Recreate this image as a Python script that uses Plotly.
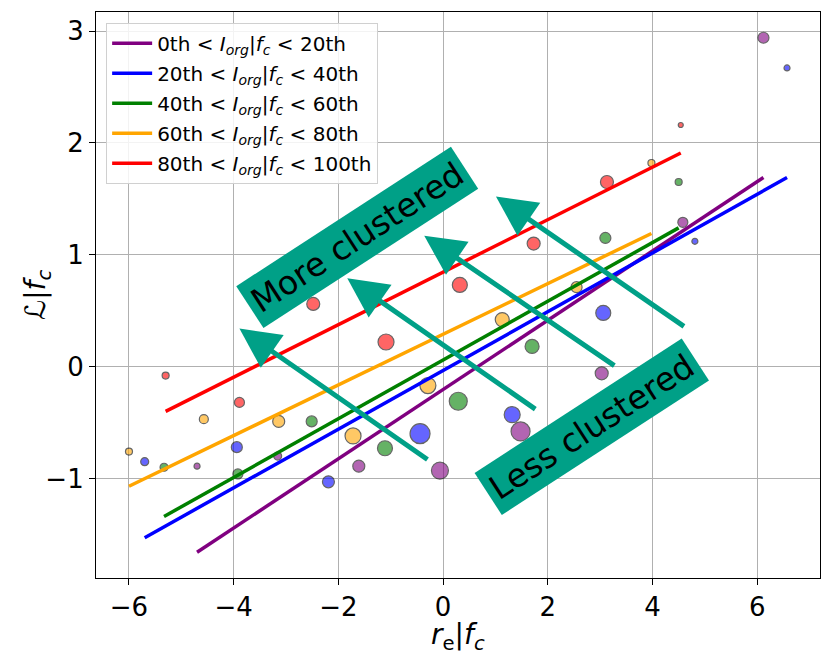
import plotly.graph_objects as go

# percentile bins of I_org|f_c
bin_labels = ["0th", "20th", "40th", "60th", "80th", "100th"]
colors = ["purple", "blue", "green", "orange", "red"]

# binned points per group (x = r_e|f_c, y = L|f_c, marker diameter)
purple_x = [-4.70, -3.16, -1.61, -0.06, 1.48, 3.03, 4.58, 6.12]
purple_y = [-0.89, -0.80, -0.89, -0.93, -0.58, -0.06, 1.29, 2.94]
purple_s = [6, 8, 12, 17, 19, 13, 10, 11]

blue_x = [-5.70, -3.94, -2.19, -0.44, 1.32, 3.06, 4.81, 6.57]
blue_y = [-0.85, -0.72, -1.03, -0.60, -0.43, 0.48, 1.12, 2.67]
blue_s = [8, 11, 12, 20, 16, 15, 6, 6]

green_x = [-5.33, -3.92, -2.51, -1.11, 0.29, 1.70, 3.10, 4.50]
green_y = [-0.90, -0.96, -0.49, -0.73, -0.31, 0.18, 1.15, 1.65]
green_s = [8, 10, 11, 15, 18, 14, 11, 7]

orange_x = [-6.00, -4.57, -3.14, -1.72, -0.29, 1.13, 2.55, 3.98]
orange_y = [-0.76, -0.47, -0.49, -0.62, -0.17, 0.42, 0.71, 1.82]
orange_s = [7, 9, 12, 16, 16, 14, 11, 7]

red_x = [-5.30, -3.89, -2.48, -1.09, 0.32, 1.73, 3.13, 4.54]
red_y = [-0.08, -0.32, 0.56, 0.22, 0.73, 1.10, 1.65, 2.16]
red_s = [7, 10, 13, 16, 15, 13, 13, 5]

# fitted line values at the first and last x of each group
purple_fit = [-1.66, 1.69]
blue_fit = [-1.53, 1.69]
green_fit = [-1.34, 1.24]
orange_fit = [-1.07, 1.19]
red_fit = [-0.40, 1.91]

groups = [
    (purple_x, purple_y, purple_s, purple_fit),
    (blue_x, blue_y, blue_s, blue_fit),
    (green_x, green_y, green_s, green_fit),
    (orange_x, orange_y, orange_s, orange_fit),
    (red_x, red_y, red_s, red_fit),
]

# arrows: (tip x, tip y, tail x, tail y)
arrows = [
    (-3.89, 0.34, -0.27, -0.84),
    (-1.83, 0.79, 1.79, -0.39),
    (-0.36, 1.17, 3.30, 0.00),
    (1.01, 1.52, 4.63, 0.35),
]

fig = go.Figure()

for (x, y, s, fit), c in zip(groups, colors):
    fig.add_trace(go.Scatter(
        x=x, y=y, mode="markers", showlegend=False,
        marker=dict(size=s, color=c, opacity=0.6,
                    line=dict(color="black", width=1.2)),
    ))

for i, ((x, y, s, fit), c) in enumerate(zip(groups, colors)):
    name = (f"{bin_labels[i]} &lt; <i>I</i><sub><i>org</i></sub>|"
            f"<i>f</i><sub><i>c</i></sub> &lt; {bin_labels[i + 1]}")
    fig.add_trace(go.Scatter(
        x=[min(x), max(x)], y=fit, mode="lines", name=name,
        legendgroup=str(i), line=dict(color=c, width=3.5),
    ))

teal = "#00A087"
for tx, ty, ax, ay in arrows:
    fig.add_annotation(
        x=tx, y=ty, ax=ax, ay=ay, xref="x", yref="y", axref="x", ayref="y",
        text="", showarrow=True, arrowhead=2, arrowsize=1.6,
        arrowwidth=5, arrowcolor=teal,
    )

box_font = dict(size=33, color="black", family="DejaVu Sans")
fig.add_annotation(
    x=-1.64, y=1.15, xref="x", yref="y", text="More clustered",
    showarrow=False, textangle=-33, bgcolor=teal, borderpad=5, font=box_font,
)
fig.add_annotation(
    x=2.85, y=-0.54, xref="x", yref="y", text="Less clustered",
    showarrow=False, textangle=-33, bgcolor=teal, borderpad=5, font=box_font,
)

# axis titles
fig.add_annotation(
    x=0.5, y=0, xref="paper", yref="paper", yshift=-58, showarrow=False,
    text="<i>r</i><sub>e</sub>|<i>f</i><sub><i>c</i></sub>",
    font=dict(size=28), yanchor="middle",
)
fig.add_annotation(
    x=0, y=0.5, xref="paper", yref="paper", xshift=-59, showarrow=False,
    text="ℒ|<i>f</i><sub><i>c</i></sub>", textangle=-90,
    font=dict(size=28), xanchor="center",
)

axis_common = dict(
    showgrid=True, gridcolor="#b0b0b0", gridwidth=1,
    showline=True, linecolor="black", linewidth=1.2, mirror=True,
    ticks="outside", ticklen=6, tickcolor="black",
    tickfont=dict(size=26, color="black"), zeroline=False, automargin=False,
)

fig.update_layout(
    width=830, height=664,
    margin=dict(l=88, r=18, t=4, b=94),
    plot_bgcolor="white", paper_bgcolor="white",
    font=dict(family="DejaVu Sans", color="black"),
    xaxis=dict(range=[-6.63, 7.20], dtick=2, **axis_common),
    yaxis=dict(range=[-1.89, 3.17], dtick=1, **axis_common),
    legend=dict(x=0.014, y=0.981, xanchor="left", yanchor="top",
                bgcolor="rgba(255,255,255,0.85)", bordercolor="#d0d0d0",
                borderwidth=1, font=dict(size=20, color="black"),
                tracegroupgap=1, itemwidth=40),
)

fig.write_html("out.html")
